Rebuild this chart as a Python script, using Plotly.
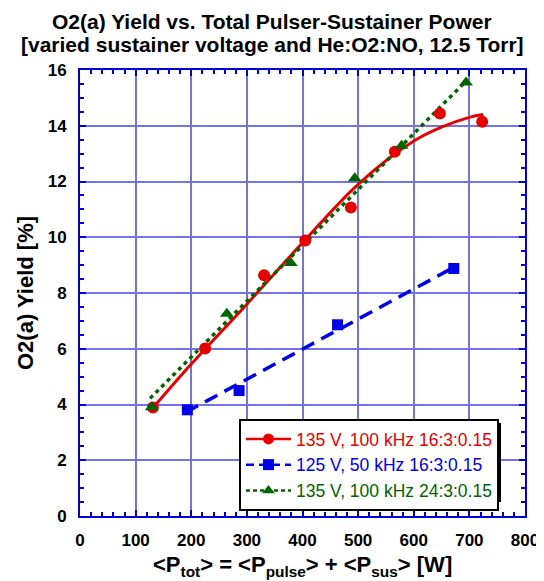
import plotly.graph_objects as go

# Measured data
red_x = [131, 225, 331, 405, 487, 566, 647, 723]
red_y = [3.89, 6.01, 8.64, 9.88, 11.07, 13.07, 14.44, 14.14]
blue_x = [193, 286, 463, 672]
blue_y = [3.81, 4.50, 6.86, 8.88]
green_x = [129, 264, 379, 494, 578, 694]
green_y = [3.90, 7.26, 9.08, 12.12, 13.28, 15.55]

# Fit curves
red_fit_x = [130, 200, 300, 400, 500, 600, 650, 700, 725]
red_fit_y = [3.85, 5.45, 7.6, 9.8, 11.9, 13.45, 13.95, 14.3, 14.4]
blue_fit_x = [190, 672]
blue_fit_y = [3.72, 8.92]
green_fit_x = [126, 694]
green_fit_y = [4.22, 15.6]

labels = ["135 V, 100 kHz 16:3:0.15", "125 V, 50 kHz 16:3:0.15", "135 V, 100 kHz 24:3:0.15"]
colors = ["rgb(230,0,0)", "rgb(0,0,230)", "rgb(0,100,0)"]
title_lines = ["O2(a) Yield vs. Total Pulser-Sustainer Power",
               "[varied sustainer voltage and He:O2:NO, 12.5 Torr]"]
x_title = "&lt;P<sub>tot</sub>&gt; = &lt;P<sub>pulse</sub>&gt; + &lt;P<sub>sus</sub>&gt; [W]"
y_title = "O2(a) Yield [%]"

FONT = "Liberation Sans, Arial, sans-serif"
OFF = 8  # page body margin
W, H = 544 - OFF, 581 - OFF
L, T = 80 - OFF, 70 - OFF
R = W - (525 - OFF)
B = H - (516 - OFF)
PW, PH = W - L - R, H - T - B


def px_x(px):
    return (px - OFF - L) / PW


def px_y(py):
    return (H - B - (py - OFF)) / PH


fig = go.Figure()

# fit lines
fig.add_trace(go.Scatter(x=red_fit_x, y=red_fit_y, mode="lines", line=dict(color=colors[0], width=3, shape="spline"), showlegend=False, hoverinfo="skip"))
fig.add_trace(go.Scatter(x=blue_fit_x, y=blue_fit_y, mode="lines", line=dict(color=colors[1], width=3.5, dash="14px,8px"), showlegend=False, hoverinfo="skip"))
fig.add_trace(go.Scatter(x=green_fit_x, y=green_fit_y, mode="lines", line=dict(color=colors[2], width=3.5, dash="4px,4px"), showlegend=False, hoverinfo="skip"))

# markers
fig.add_trace(go.Scatter(x=red_x, y=red_y, mode="markers", marker=dict(symbol="circle", size=12, color=colors[0]), showlegend=False))
fig.add_trace(go.Scatter(x=blue_x, y=blue_y, mode="markers", marker=dict(symbol="square", size=11, color=colors[1]), showlegend=False))
fig.add_trace(go.Scatter(x=green_x, y=green_y, mode="markers", marker=dict(symbol="triangle-up", size=12, color=colors[2]), showlegend=False))

# legend samples
dashes = ["solid", "8px,5px", "4px,3px"]
symbols = ["circle", "square", "triangle-up"]
for lab, c, d, s in zip(labels, colors, dashes, symbols):
    fig.add_trace(go.Scatter(x=[None], y=[None], mode="lines+markers",
                             line=dict(color=c, width=2.5, dash=d),
                             marker=dict(symbol=s, size=11, color=c),
                             name=f"<span style='color:{c}'>{lab}</span>"))

axis_common = dict(
    showline=True, linecolor="rgb(0,0,210)", linewidth=2, mirror="allticks",
    ticks="inside", tickcolor="rgb(0,0,210)", ticklen=6, tickwidth=1.5,
    showgrid=True, gridcolor="rgb(115,115,230)", gridwidth=1.5,
    zeroline=False, automargin=False,
    tickfont=dict(family=FONT, size=17, color="black", weight="bold"),
)

fig.update_xaxes(range=[0, 800], dtick=100, tick0=0, ticklabelstandoff=8,
                 minor=dict(dtick=20, ticks="inside", ticklen=4, tickcolor="rgb(0,0,210)", showgrid=False),
                 **axis_common)
fig.update_yaxes(range=[0, 16], dtick=2, tick0=0, ticklabelstandoff=8,
                 minor=dict(dtick=0.5, ticks="inside", ticklen=4, tickcolor="rgb(0,0,210)", showgrid=False),
                 **axis_common)

# legend shadow
fig.add_shape(type="rect", xref="paper", yref="paper",
              x0=px_x(243), x1=px_x(501), y0=px_y(502), y1=px_y(423),
              fillcolor="black", line=dict(width=0), layer="above")

annotations = [
    dict(text=title_lines[0], x=px_x(272), xref="paper", y=px_y(21), yref="paper",
         xanchor="center", yanchor="middle", showarrow=False,
         font=dict(family=FONT, size=21, color="black", weight="bold")),
    dict(text=title_lines[1], x=px_x(272), xref="paper", y=px_y(44), yref="paper",
         xanchor="center", yanchor="middle", showarrow=False,
         font=dict(family=FONT, size=21, color="black", weight="bold")),
    dict(text=x_title, x=px_x(302), xref="paper", y=px_y(550), yref="paper",
         xanchor="center", yanchor="top", showarrow=False,
         font=dict(family=FONT, size=22, color="black", weight="bold")),
    dict(text=y_title, x=px_x(25), xref="paper", y=px_y(293), yref="paper",
         xanchor="center", yanchor="middle", showarrow=False, textangle=-90,
         font=dict(family=FONT, size=22, color="black", weight="bold")),
]

fig.update_layout(
    width=W, height=H,
    margin=dict(l=L, r=R, t=T, b=B),
    plot_bgcolor="white", paper_bgcolor="white",
    annotations=annotations,
    legend=dict(x=px_x(239), y=px_y(419), xanchor="left", yanchor="top",
                bgcolor="white", bordercolor="black", borderwidth=2,
                font=dict(family=FONT, size=17.5), itemwidth=45,
                tracegroupgap=0),
    showlegend=True,
)

fig.write_html("out.html")
